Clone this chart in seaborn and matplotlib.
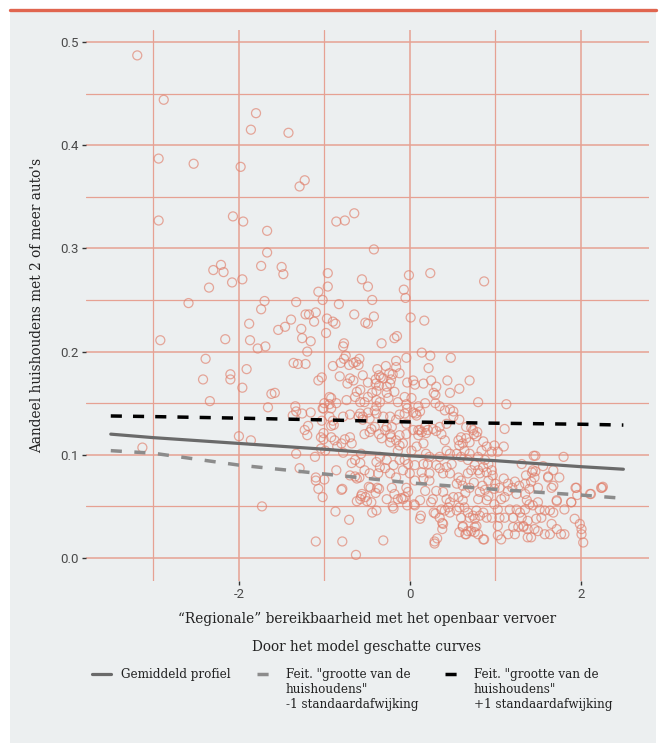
import matplotlib
matplotlib.use("Agg")
import matplotlib.pyplot as plt
from matplotlib.lines import Line2D
from matplotlib.patches import Rectangle
from matplotlib.ticker import MultipleLocator
from matplotlib.legend_handler import HandlerLine2D
import pandas as pd
import seaborn as sns

# ---- data ----
# gemeenten: x = regionale bereikbaarheid OV (z-score), y = aandeel huishoudens met 2+ auto's
punten_boven = [
    (-3.19, 0.487), (-2.88, 0.444), (-1.80, 0.431), (-1.86, 0.415), (-1.42, 0.412),
    (-2.94, 0.387), (-2.53, 0.382), (-1.98, 0.379), (-1.23, 0.366), (-1.29, 0.360),
    (-2.94, 0.327), (-2.07, 0.331), (-1.95, 0.326), (-1.67, 0.317), (-0.86, 0.326),
    (-0.76, 0.327), (-0.65, 0.334), (-0.42, 0.299), (-1.67, 0.296),
    (-2.30, 0.279), (-2.21, 0.284), (-2.18, 0.277), (-2.08, 0.267), (-1.96, 0.270),
    (-1.74, 0.283), (-1.50, 0.282), (-1.48, 0.275), (-2.35, 0.262), (-2.59, 0.247),
    (-1.70, 0.249), (-1.74, 0.241), (-1.33, 0.248), (-1.07, 0.258), (-1.02, 0.250),
    (-1.22, 0.236), (-1.18, 0.236), (-1.10, 0.238), (-1.39, 0.231), (-1.12, 0.229),
    (-1.88, 0.227), (-1.54, 0.221), (-1.46, 0.224), (-1.27, 0.222), (-1.26, 0.213),
    (-1.16, 0.210), (-2.92, 0.211), (-2.16, 0.212), (-1.87, 0.211), (-1.78, 0.203),
    (-1.69, 0.205), (-0.98, 0.218), (-0.96, 0.276), (-0.96, 0.263), (-0.97, 0.232),
    (-0.56, 0.270), (-0.49, 0.263), (-0.01, 0.274), (0.24, 0.276), (0.87, 0.268),
    (-0.07, 0.260), (-0.05, 0.252), (-0.44, 0.250), (-0.83, 0.246), (-0.65, 0.236),
    (-0.52, 0.228), (-0.49, 0.227), (-0.42, 0.234), (-0.90, 0.229), (-0.87, 0.227),
    (0.01, 0.233), (0.17, 0.230), (-0.33, 0.208), (-0.18, 0.213), (-0.15, 0.215),
    (-0.77, 0.208), (-0.78, 0.205),
]

punten_midden = [
    (-1.20, 0.200), (-2.39, 0.193), (-1.36, 0.189), (-1.31, 0.188), (-1.22, 0.188),
    (-1.91, 0.183), (-2.42, 0.173), (-2.10, 0.178), (-2.10, 0.173), (-1.07, 0.172),
    (-1.03, 0.175), (-2.34, 0.152), (-1.96, 0.165), (-1.62, 0.159), (-1.58, 0.160),
    (-1.66, 0.146), (-1.34, 0.147), (-1.33, 0.142), (-1.26, 0.140), (-1.37, 0.138),
    (-1.16, 0.141), (-1.00, 0.150), (-1.02, 0.145),
    (-0.90, 0.186), (-0.81, 0.189), (-0.75, 0.196), (-0.77, 0.193), (-0.71, 0.187),
    (-0.66, 0.189), (-0.63, 0.190), (-0.59, 0.193), (-0.60, 0.187), (-0.38, 0.183),
    (-0.28, 0.186), (-0.16, 0.191), (-0.16, 0.185), (-0.04, 0.194), (0.14, 0.199),
    (0.24, 0.196), (0.22, 0.184), (0.48, 0.194), (-0.70, 0.174), (-0.73, 0.169),
    (-0.36, 0.177), (-0.34, 0.175), (-0.40, 0.173), (-0.40, 0.169), (-0.24, 0.179),
    (-0.20, 0.178), (-0.22, 0.173), (-0.23, 0.169), (-0.49, 0.170), (-0.03, 0.170),
    (0.04, 0.172), (-0.92, 0.155), (-0.62, 0.161), (-0.58, 0.163), (-0.44, 0.160),
    (-0.39, 0.162), (-0.36, 0.167), (-0.27, 0.166), (-0.27, 0.160), (-0.18, 0.161),
    (-0.25, 0.155), (-0.53, 0.151), (-0.94, 0.149), (-0.04, 0.149), (0.28, 0.160),
    (0.30, 0.158), (0.44, 0.172), (0.70, 0.172), (0.47, 0.160), (0.80, 0.151),
    (1.13, 0.149), (0.30, 0.150), (-0.03, 0.145), (0.47, 0.144), (0.51, 0.142),
    (0.07, 0.140), (0.12, 0.142), (-0.94, 0.156), (-0.86, 0.150), (-0.74, 0.153),
    (-0.64, 0.156), (-0.58, 0.151), (-0.49, 0.156), (-0.35, 0.151), (-0.14, 0.151),
    (-0.06, 0.156), (0.02, 0.155), (0.10, 0.147), (0.18, 0.150), (0.35, 0.147),
    (0.41, 0.143), (-0.82, 0.176), (-0.66, 0.172), (-0.55, 0.177), (-0.31, 0.174),
    (-0.12, 0.179), (0.06, 0.168), (0.16, 0.169), (0.25, 0.172), (0.31, 0.166),
    (0.58, 0.164), (-0.39, 0.153), (-0.39, 0.147),
]

punten_onder = [
    (-1.19, 0.128), (-1.20, 0.119), (-2.00, 0.118), (-1.86, 0.114), (-1.04, 0.117),
    (-1.01, 0.121), (-3.13, 0.107), (-1.33, 0.101), (-1.11, 0.098), (-1.04, 0.106),
    (-1.01, 0.145), (-0.92, 0.145), (-0.89, 0.129), (-0.92, 0.128), (-1.01, 0.115),
    (-0.92, 0.117), (-0.88, 0.114), (-0.85, 0.108), (-0.80, 0.111), (-0.76, 0.115),
    (-0.70, 0.117), (-0.68, 0.111), (-0.78, 0.102), (-0.58, 0.140), (-0.55, 0.137),
    (-0.49, 0.141), (-0.41, 0.143), (-0.45, 0.125), (-0.41, 0.127), (-0.53, 0.120),
    (-0.47, 0.122), (-0.36, 0.120), (-0.33, 0.116), (-0.29, 0.124), (-0.27, 0.127),
    (-0.23, 0.120), (-0.22, 0.117), (-0.23, 0.112), (-0.16, 0.114), (-0.12, 0.119),
    (-0.12, 0.109), (-0.14, 0.104), (-0.08, 0.111), (-0.04, 0.120), (-0.06, 0.140),
    (0.04, 0.141), (0.08, 0.138), (0.10, 0.124), (0.10, 0.119), (0.14, 0.122),
    (0.18, 0.127), (0.21, 0.124), (0.27, 0.125), (0.31, 0.123), (0.37, 0.120),
    (0.41, 0.114), (0.43, 0.104), (0.47, 0.101), (0.16, 0.111), (0.08, 0.108),
    (0.02, 0.104), (0.19, 0.101), (-1.23, 0.124), (-1.03, 0.133), (-0.90, 0.133),
    (-0.99, 0.104), (-0.57, 0.101), (-0.94, 0.137), (-0.78, 0.137), (-0.70, 0.139),
    (-0.60, 0.137), (-0.55, 0.134), (-0.47, 0.135), (-0.39, 0.140), (-0.31, 0.137),
    (-0.23, 0.137), (-0.16, 0.134), (-0.21, 0.127), (-0.12, 0.139), (-0.04, 0.130),
    (0.04, 0.124), (0.12, 0.124), (0.19, 0.121), (0.35, 0.127), (0.43, 0.130),
    (0.51, 0.137), (0.58, 0.134), (0.66, 0.127), (0.74, 0.124), (0.79, 0.122),
    (0.75, 0.120), (0.60, 0.117), (0.57, 0.114), (0.66, 0.116), (0.62, 0.111),
    (0.58, 0.109), (0.70, 0.112), (0.64, 0.104), (0.55, 0.101), (0.70, 0.101),
    (0.84, 0.104), (0.90, 0.108), (0.96, 0.103), (1.03, 0.103), (1.10, 0.108),
    (1.11, 0.125), (0.72, 0.126), (0.99, 0.109), (0.78, 0.118), (0.86, 0.113),
]

punten_laag = [
    (-0.64, 0.095), (-0.68, 0.092), (-0.58, 0.092), (0.35, 0.098), (0.23, 0.098),
    (0.16, 0.091), (0.21, 0.091), (0.31, 0.090), (0.35, 0.087), (0.43, 0.088),
    (0.49, 0.091), (0.47, 0.082), (0.39, 0.082), (0.23, 0.082), (0.14, 0.083),
    (0.06, 0.090), (-0.02, 0.091), (-0.06, 0.095), (-0.12, 0.095), (-0.19, 0.090),
    (-0.27, 0.095), (-0.35, 0.098), (-0.39, 0.093), (-0.35, 0.088), (-0.29, 0.087),
    (-0.23, 0.082), (-0.16, 0.078), (-0.08, 0.085), (0.00, 0.082), (0.06, 0.075),
    (0.16, 0.077), (0.23, 0.075), (-0.37, 0.082), (-0.47, 0.082), (-0.53, 0.085),
    (-0.62, 0.077), (-0.70, 0.080), (-0.86, 0.085), (-1.29, 0.087), (-1.10, 0.078),
    (-1.10, 0.075), (-1.00, 0.076), (-1.07, 0.067), (-1.02, 0.059), (-1.73, 0.050),
    (-1.10, 0.016), (-0.79, 0.016), (-0.31, 0.017), (-0.63, 0.003), (-0.87, 0.045),
    (-0.79, 0.067), (-0.64, 0.079), (-0.59, 0.078), (-0.56, 0.062), (-0.62, 0.055),
    (-0.52, 0.059), (-0.50, 0.055), (-0.44, 0.044), (-0.39, 0.046), (-0.48, 0.069),
    (-0.36, 0.067), (-0.27, 0.057), (-0.20, 0.050), (-0.10, 0.058), (-0.06, 0.059),
    (0.05, 0.052), (-0.03, 0.051), (0.13, 0.041), (0.29, 0.016), (0.32, 0.019),
    (0.38, 0.034), (0.38, 0.028), (0.28, 0.044), (0.30, 0.043), (0.41, 0.046),
    (0.62, 0.031), (0.68, 0.026), (0.76, 0.025), (0.65, 0.023), (0.78, 0.031),
    (0.87, 0.018), (1.96, 0.061), (2.12, 0.062), (2.26, 0.069), (1.80, 0.098),
    (1.45, 0.099), (1.31, 0.091), (1.47, 0.084), (1.62, 0.079), (1.68, 0.070),
    (1.72, 0.055), (1.89, 0.054), (-0.80, 0.066), (-0.71, 0.037), (-0.46, 0.068),
    (-0.38, 0.068), (-0.40, 0.063), (-0.57, 0.060), (-0.58, 0.057), (-0.45, 0.054),
    (-0.21, 0.068), (-0.18, 0.062), (-0.14, 0.057), (-0.19, 0.048), (-0.08, 0.057),
    (-0.02, 0.064), (0.06, 0.051), (-0.04, 0.068), (0.12, 0.038), (0.12, 0.056),
    (0.18, 0.065), (0.27, 0.057), (0.31, 0.065), (0.25, 0.054), (0.39, 0.064),
    (0.43, 0.057), (0.47, 0.054), (0.51, 0.059), (0.37, 0.047), (0.35, 0.039),
    (0.39, 0.033), (0.29, 0.014), (0.45, 0.049), (0.47, 0.044),
    (0.57, 0.059), (0.62, 0.056), (0.64, 0.049), (0.58, 0.049), (0.55, 0.046),
    (0.68, 0.044), (0.74, 0.041), (0.70, 0.039), (0.76, 0.038), (0.82, 0.041),
    (0.78, 0.046), (0.86, 0.044), (0.90, 0.039), (0.96, 0.039), (0.60, 0.039),
    (0.62, 0.030), (0.58, 0.025), (0.66, 0.023), (0.72, 0.026), (0.76, 0.030),
    (0.80, 0.023), (0.86, 0.018), (0.99, 0.052), (1.03, 0.047), (1.05, 0.039),
    (1.03, 0.031), (1.03, 0.022), (1.07, 0.018), (1.11, 0.039), (1.17, 0.047),
    (1.21, 0.039), (1.25, 0.047), (1.29, 0.044), (1.31, 0.039), (1.35, 0.047),
    (1.37, 0.056), (1.40, 0.052), (1.44, 0.051), (1.50, 0.054), (1.52, 0.047),
    (1.58, 0.046), (1.64, 0.046), (1.68, 0.044), (1.54, 0.039), (1.48, 0.038),
    (1.38, 0.036), (1.33, 0.031), (1.27, 0.030), (1.21, 0.030), (1.15, 0.023),
    (1.23, 0.023), (1.33, 0.030), (1.38, 0.028), (1.46, 0.028), (1.50, 0.026),
    (1.38, 0.020), (1.42, 0.020), (1.58, 0.023), (1.64, 0.023), (1.66, 0.033),
    (1.72, 0.028), (1.77, 0.023), (1.81, 0.023), (1.66, 0.068), (1.72, 0.056),
    (1.81, 0.047), (1.89, 0.054), (1.93, 0.038), (1.95, 0.068), (2.11, 0.062),
    (2.24, 0.068), (1.99, 0.033), (2.01, 0.028), (2.01, 0.023), (2.03, 0.015),
    (0.80, 0.057), (0.90, 0.056), (0.82, 0.064), (1.15, 0.065), (1.11, 0.059),
    (1.35, 0.062), (1.40, 0.067), (0.99, 0.067), (0.92, 0.060), (1.07, 0.057),
    (0.55, 0.072), (0.62, 0.070), (0.70, 0.068), (0.75, 0.073), (0.85, 0.070),
    (0.92, 0.075), (1.00, 0.072), (1.05, 0.068), (1.15, 0.072), (1.20, 0.068),
    (1.28, 0.070), (1.35, 0.072), (1.50, 0.068), (0.65, 0.063), (0.88, 0.066),
    (1.25, 0.062), (0.80, 0.098), (0.88, 0.095), (0.92, 0.091), (0.86, 0.088),
    (0.76, 0.090), (0.72, 0.085), (0.80, 0.085), (0.68, 0.082), (0.82, 0.082),
    (0.90, 0.083), (0.96, 0.085), (0.97, 0.080), (1.47, 0.099), (1.36, 0.080),
    (1.44, 0.085), (1.46, 0.078), (1.56, 0.089), (1.62, 0.078), (1.68, 0.085),
    (1.10, 0.077), (1.23, 0.074), (1.42, 0.074), (0.57, 0.078), (0.60, 0.075),
    (0.60, 0.098), (0.68, 0.095), (1.43, 0.083), (1.75, 0.078), (1.94, 0.068),
    (2.25, 0.068),
]

# door het model geschatte curves
curve_x = [-3.5, -3.0, -2.0, -1.0, 0.0, 1.0, 2.0, 2.5]
gemiddeld = [0.1200, 0.1166, 0.1110, 0.1054, 0.0990, 0.0943, 0.0885, 0.0860]
min_1sd = [0.1040, 0.1015, 0.0900, 0.0814, 0.0728, 0.0665, 0.0610, 0.0578]
plus_1sd = [0.1376, 0.1370, 0.1355, 0.1338, 0.1318, 0.1306, 0.1296, 0.1288]

labels = [
    "Gemiddeld profiel\n\n",
    'Feit. "grootte van de\nhuishoudens"\n-1 standaardafwijking',
    'Feit. "grootte van de\nhuishoudens"\n+1 standaardafwijking',
]
legend_titel = "Door het model geschatte curves"
x_ticks = [-2, 0, 2]
x_ticklabels = ["-2", "0", "2"]
y_ticks = [0.0, 0.1, 0.2, 0.3, 0.4, 0.5]
y_ticklabels = ["0.0", "0.1", "0.2", "0.3", "0.4", "0.5"]

BG = "#ECEFF0"
RED = "#E0654F"
GRID = "#E6A193"
PT = "#E07E6A"


class HandlerBoven(HandlerLine2D):
    # legend key next to the first line of a multi-line label
    def create_artists(self, legend, orig_handle, xdescent, ydescent,
                       width, height, fontsize, trans):
        arts = super().create_artists(legend, orig_handle, xdescent, ydescent,
                                      width, height, fontsize, trans)
        for a in arts:
            a.set_ydata([y + fontsize * 1.2 for y in a.get_ydata()])
        return arts


alle = punten_boven + punten_midden + punten_onder + punten_laag
df = pd.DataFrame(alle, columns=["ov", "aandeel"])

sns.set_theme(style="white")
plt.rcParams["font.family"] = ["DejaVu Serif"]
plt.rcParams["font.stretch"] = "condensed"
plt.rcParams["axes.unicode_minus"] = False

W, H = 660, 743
fig = plt.figure(figsize=(W / 100, H / 100), dpi=100)
fig.patch.set_facecolor("white")
fig.add_artist(Rectangle((10 / W, 0), 646 / W, 1 - 10 / H, transform=fig.transFigure,
                         facecolor=BG, edgecolor="none", zorder=-10))
fig.add_artist(Line2D([10 / W, 656 / W], [1 - 10 / H] * 2, transform=fig.transFigure,
                      color=RED, lw=2.4))

ax = fig.add_axes([86 / W, 1 - 581 / H, (649 - 86) / W, (581 - 30) / H])
ax.set_facecolor(BG)

sns.scatterplot(data=df, x="ov", y="aandeel", ax=ax, s=42, facecolor="none",
                edgecolor=PT, linewidth=0.9, alpha=0.65, zorder=2)

sns.lineplot(x=curve_x, y=gemiddeld, ax=ax, color="#6A6A6A", lw=2.3,
             label=labels[0], zorder=3)
sns.lineplot(x=curve_x, y=min_1sd, ax=ax, color="#8C8C8C", lw=2.5,
             linestyle=(0, (3.2, 3.6)), label=labels[1], zorder=3)
sns.lineplot(x=curve_x, y=plus_1sd, ax=ax, color="black", lw=2.5,
             linestyle=(0, (3.2, 3.2)), label=labels[2], zorder=3)

ax.set_xlim(-3.79, 2.80)
ax.set_ylim(-0.0223, 0.5116)
ax.xaxis.set_minor_locator(MultipleLocator(1))
ax.yaxis.set_minor_locator(MultipleLocator(0.05))
ax.set_xticks(x_ticks, x_ticklabels)
ax.set_yticks(y_ticks, y_ticklabels)
ax.grid(which="major", color=GRID, lw=1.1, zorder=0)
ax.grid(which="minor", color=GRID, lw=0.9, zorder=0)
ax.set_axisbelow(True)
for s in ax.spines.values():
    s.set_visible(False)
ax.tick_params(which="major", length=3, width=1, color="#333333", pad=2,
               labelsize=9.5, labelcolor="#4A4A4A", left=True, bottom=True)
ax.tick_params(which="minor", length=0)
for t in ax.get_xticklabels() + ax.get_yticklabels():
    t.set_family("Roboto")
    t.set_stretch("normal")

ax.set_xlabel("\u201cRegionale\u201d bereikbaarheid met het openbaar vervoer",
              fontsize=11, color="#222222", labelpad=8)
ax.set_ylabel("Aandeel huishoudens met 2 of meer auto's",
              fontsize=11, color="#222222", labelpad=12)

handles, labs = ax.get_legend_handles_labels()
ax.get_legend().remove()
fig.text(367 / W, 1 - 647 / H, legend_titel, ha="center", va="center",
         fontsize=11, color="#222222")
leg = fig.legend(handles, labs, loc="upper center", bbox_to_anchor=(352 / W, 1 - 661 / H),
                 ncol=3, frameon=False, fontsize=9.5, handlelength=1.45,
                 handletextpad=0.75, columnspacing=2.0, borderpad=0,
                 handler_map={Line2D: HandlerBoven()})
for t in leg.get_texts():
    t.set_color("#222222")

fig.savefig("out.png", dpi=100, facecolor=fig.get_facecolor())
